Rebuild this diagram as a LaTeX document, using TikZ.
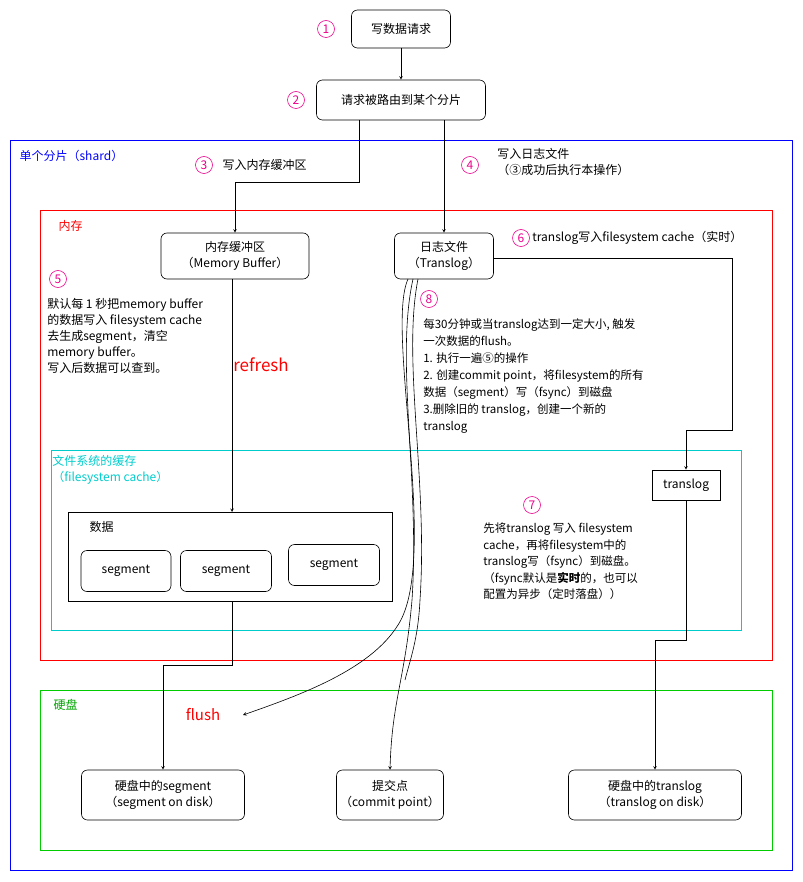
\documentclass[tikz,border=0pt]{standalone}
\usepackage{fontspec}
\setmainfont{Noto Sans CJK SC}
\usetikzlibrary{positioning}
\definecolor{fscyan}{RGB}{0,204,204}
\definecolor{diskgreen}{RGB}{0,204,0}
\tikzset{
  box/.style={draw, rounded corners=6pt, align=center, inner sep=0pt},
  sqbox/.style={draw, inner sep=0pt},
  num/.style={circle, draw=magenta, text=magenta, inner sep=0pt, minimum size=17pt},
  txt/.style={align=left, anchor=north west, inner sep=0pt},
  arr/.style={->, >=stealth},
}
\begin{document}
\begin{tikzpicture}[x=1pt, y=-1pt, font=\fontsize{12}{16}\selectfont, semithick]
  \useasboundingbox (0,0) rectangle (802,882);

  % areas
  \draw[blue, thick] (10,140) rectangle (792,870);
  \node[text=blue, anchor=west] (shard) at (16,156) {单个分片（shard）};
  \draw[red, thick] (40,210) rectangle (772,660);
  \node[text=red, anchor=west] (mem) at (55,226) {内存};
  \draw[fscyan, thick] (51,450) rectangle (741,630);
  \node[text=fscyan, txt] (fscache) at (52,455) {文件系统的缓存\\（filesystem cache）};
  \draw[diskgreen, thick] (40,690) rectangle (772,850);
  \node[text=diskgreen!80!black, anchor=west] (disk) at (50,705) {硬盘};

  % request boxes
  \node[box, minimum width=99pt, minimum height=38pt] (write) at (401,29) {写数据请求};
  \node[num] (n1) at (326,29) {1};
  \node[box, minimum width=169pt, minimum height=40pt] (route) at (401,100) {请求被路由到某个分片};
  \node[num] (n2) at (296,100) {2};
  \draw[arr] (write) -- (route);

  \node[num] (n3) at (204,165) {3};
  \node[anchor=west] (t3) at (219,165) {写入内存缓冲区};
  \node[num] (n4) at (470,165) {4};
  \node[txt] (t4) at (497,148) {写入日志文件\\ （③成功后执行本操作）};

  \node[box, minimum width=148pt, minimum height=46pt] (buffer) at (235,256) {内存缓冲区\\（Memory Buffer）};
  \node[box, minimum width=99pt, minimum height=46pt] (translog) at (444,256) {日志文件\\（Translog）};
  \draw[arr] (route.south -| 359,0) |- (235,182) -- (buffer.north);
  \draw[arr] (route.south -| translog) -- (translog.north);

  \node[num] (n6) at (521,238) {6};
  \node[anchor=west, inner sep=0pt] (t6) at (532,238) {translog写入filesystem cache（实时）};
  \node[sqbox, minimum width=68pt, minimum height=30pt] (fstrans) at (686,485) {translog};
  \draw[arr] (translog.east |- 0,258) -| (732,430) -| (fstrans.north);

  \node[num] (n5) at (58,279) {5};
  \node[txt] (t5) at (47,298) {默认每 1 秒把memory buffer\\的数据写入 filesystem cache\\去生成segment，清空\\memory buffer。\\写入后数据可以查到。};
  \node[text=red, font=\fontsize{17}{20}\selectfont] (refresh) at (261,365) {refresh};

  \node[num] (n8) at (429,299) {8};
  \node[txt, font=\fontsize{11.5}{17}\selectfont] (t8) at (423,318) {每30分钟或当translog达到一定大小, 触发\\一次数据的flush。\\1. 执行一遍⑤的操作\\2. 创建commit point，将filesystem的所有\\数据（segment）写（fsync）到磁盘\\3.删除旧的 translog，创建一个新的\\translog};

  % data
  \draw (68,512) rectangle (392,601);
  \coordinate (data) at (232,512);
  \node[anchor=west] (datalbl) at (86,527) {数据};
  \node[box, minimum width=90pt, minimum height=41pt] (seg1) at (126,571) {segment};
  \node[box, minimum width=91pt, minimum height=41pt] (seg2) at (226,571) {segment};
  \node[box, minimum width=91pt, minimum height=41pt] (seg3) at (334,565) {segment};
  \draw[arr] (buffer.south -| data) -- (data);

  \node[num] (n7) at (532,505) {7};
  \node[txt, font=\fontsize{11.5}{16.5}\selectfont] (t7) at (483,523) {先将translog 写入 filesystem\\cache，再将filesystem中的\\translog写（fsync）到磁盘。\\ （fsync默认是\textbf{实时}的，也可以\\配置为异步（定时落盘））};

  % disk
  \node[text=red, font=\fontsize{15}{18}\selectfont] (flush) at (203,715) {flush};
  \coordinate (flushtip) at (243,715);
  \node[box, minimum width=163pt, minimum height=50pt] (dseg) at (163,795) {硬盘中的segment\\（segment on disk）};
  \node[box, minimum width=107pt, minimum height=50pt] (commit) at (390,795) {提交点\\（commit point）};
  \node[box, minimum width=173pt, minimum height=50pt] (dtrans) at (655,795) {硬盘中的translog\\（translog on disk）};

  \draw[arr] (232,601) |- (163,665) -- (dseg.north);
  \draw[arr] (fstrans.south) |- (655,640) -- (dtrans.north);
  \draw[arr] (408,279) .. controls (385,330) and (440,560) .. (398,625) .. controls (370,670) and (300,695) .. (flushtip);
  \draw[arr] (413,279) .. controls (395,360) and (420,480) .. (412,600) .. controls (405,680) and (392,700) .. (commit.north);
  \draw (418,279) .. controls (402,360) and (428,480) .. (420,600) .. controls (418,640) and (410,660) .. (405,680);
\end{tikzpicture}
\end{document}
